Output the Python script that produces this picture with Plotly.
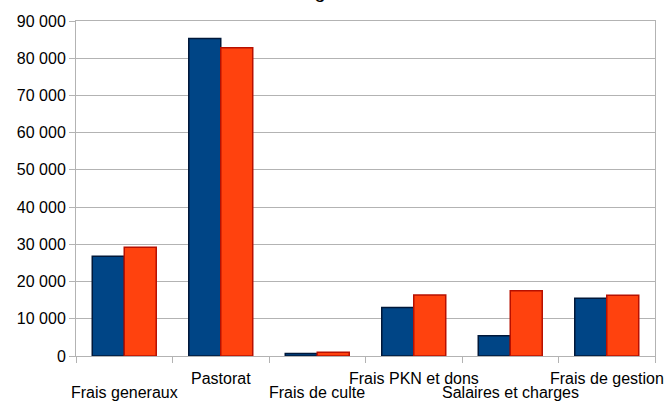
import plotly.graph_objects as go

categories = ["Frais generaux", "Pastorat", "Frais de culte", "Frais PKN et dons",
              "Salaires et charges", "Frais de gestion"]
series_a = [26800, 85300, 650, 13000, 5450, 15500]
series_b = [29200, 82800, 1000, 16400, 17500, 16300]
y_ticks = [0, 10000, 20000, 30000, 40000, 50000, 60000, 70000, 80000, 90000]

fig = go.Figure()
fig.add_trace(go.Bar(x=categories, y=series_a, name="A",
                     marker=dict(color="#004586", line=dict(color="#00183a", width=1.5))))
fig.add_trace(go.Bar(x=categories, y=series_b, name="B",
                     marker=dict(color="#ff420e", line=dict(color="#b81000", width=1.5))))

fig.update_layout(
    width=665, height=401,
    margin=dict(l=76, r=10, t=21, b=45, autoexpand=False),
    paper_bgcolor="white", plot_bgcolor="white",
    barmode="group", bargap=0.337, bargroupgap=0,
    showlegend=False,
    separators=". ",
    font=dict(family="Liberation Sans, Arial, sans-serif", size=16, color="#000000"),
)
fig.add_annotation(text="Budget", xref="paper", yref="paper", x=0.406, y=1.089,
                   xanchor="center", yanchor="middle", showarrow=False,
                   font=dict(size=20, color="#000000"))
# staggered category labels (two rows)
for i, c in enumerate(categories):
    fig.add_annotation(text=c, xref="x", yref="paper", x=c,
                       y=-0.110 if i % 2 == 0 else -0.066,
                       xanchor="center", yanchor="middle", showarrow=False,
                       font=dict(size=16, color="#000000"))

fig.update_yaxes(range=[0, 90000], tickvals=y_ticks, tickformat=",d",
                 showgrid=True, gridcolor="#b3b3b3", gridwidth=1,
                 showline=True, linecolor="#b3b3b3", linewidth=1, mirror=True,
                 ticks="outside", ticklen=6, tickcolor="#b3b3b3",
                 tickfont=dict(size=16), zeroline=False, automargin=False)
fig.update_xaxes(range=[-0.5, len(categories) - 0.5],
                 tickvals=categories, ticktext=[""] * len(categories), tickson="boundaries",
                 ticks="outside", ticklen=6, tickcolor="#b3b3b3",
                 showline=True, linecolor="#b3b3b3", linewidth=1, mirror=True,
                 showgrid=False, automargin=False)

fig.write_html("out.html", config={"displayModeBar": False},
               post_script="document.body.style.margin='0';")
